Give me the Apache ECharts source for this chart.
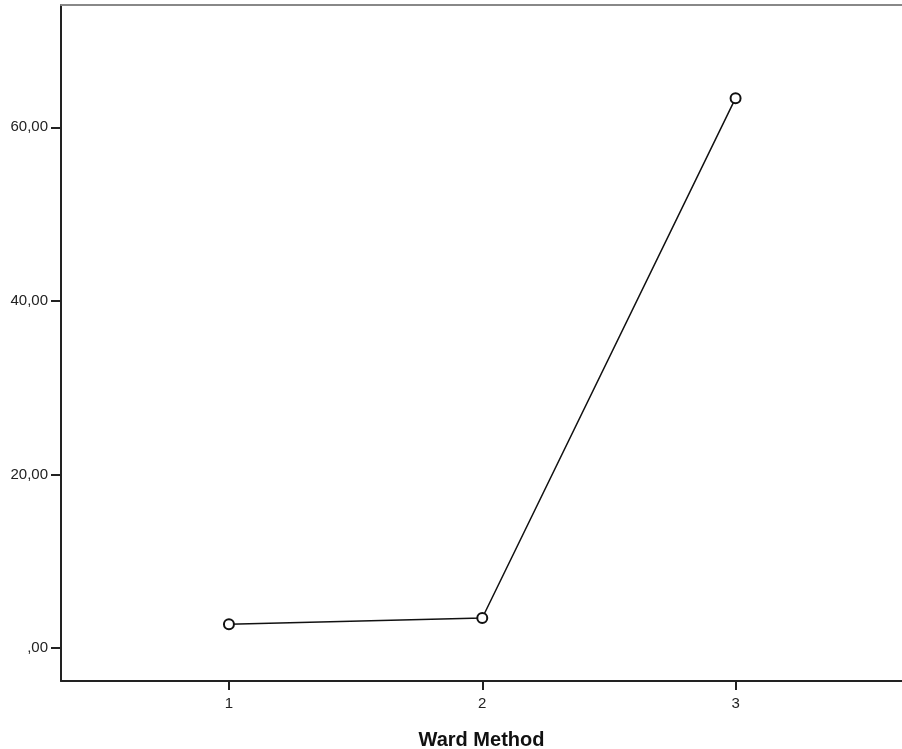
<!DOCTYPE html>
<html>
<head>
<meta charset="utf-8">
<script src="https://cdn.jsdelivr.net/npm/echarts@6/dist/echarts.min.js"></script>
<style>
  html, body { margin: 0; padding: 0; background: #fff; }
  #chart { width: 902px; height: 749px; }
</style>
</head>
<body>
<div id="chart"></div>
<script>
// cluster numbers and their mean values
var clusters = [1, 2, 3];
var means = [2.74, 3.46, 63.36];
var yTicks = [0, 20, 40, 60];

var points = clusters.map(function (c, i) { return [c, means[i]]; });

var chart = echarts.init(document.getElementById('chart'));
var font = '"Liberation Sans", Arial, sans-serif';

chart.setOption({
  animation: false,
  backgroundColor: '#fff',
  grid: { left: 61, right: 0, top: 5, bottom: 68, outerBoundsMode: 'none', containLabel: false },
  xAxis: [
    {
      type: 'value',
      min: 0.337,
      max: 3.657,
      name: 'Ward Method',
      nameLocation: 'middle',
      nameGap: 49,
      nameTextStyle: { fontFamily: font, fontSize: 20, fontWeight: 'bold', color: '#111' },
      axisLine: { onZero: false, lineStyle: { color: '#222', width: 2 } },
      axisTick: { customValues: clusters, length: 9, lineStyle: { color: '#222', width: 2 } },
      axisLabel: { customValues: clusters, margin: 15, fontFamily: font, fontSize: 15, color: '#222' },
      splitLine: { show: false }
    },
    {
      type: 'value',
      position: 'top',
      min: 0.337,
      max: 3.657,
      axisLine: { onZero: false, lineStyle: { color: '#888', width: 2 } },
      axisTick: { show: false },
      axisLabel: { show: false },
      splitLine: { show: false }
    }
  ],
  yAxis: {
    type: 'value',
    min: -3.8,
    max: 74.1,
    axisLine: { show: true, onZero: false, lineStyle: { color: '#222', width: 2 } },
    axisTick: { customValues: yTicks, length: 10, lineStyle: { color: '#222', width: 2 } },
    axisLabel: {
      customValues: yTicks,
      margin: 13,
      fontFamily: font,
      fontSize: 15,
      color: '#222',
      formatter: function (v) { return v === 0 ? ',00' : v + ',00'; }
    },
    splitLine: { show: false }
  },
  series: [{
    type: 'line',
    data: points,
    symbol: 'emptyCircle',
    symbolSize: 10,
    lineStyle: { color: '#111', width: 1.5 },
    itemStyle: { color: '#111', borderColor: '#111', borderWidth: 1.5 }
  }]
});
</script>
</body>
</html>
